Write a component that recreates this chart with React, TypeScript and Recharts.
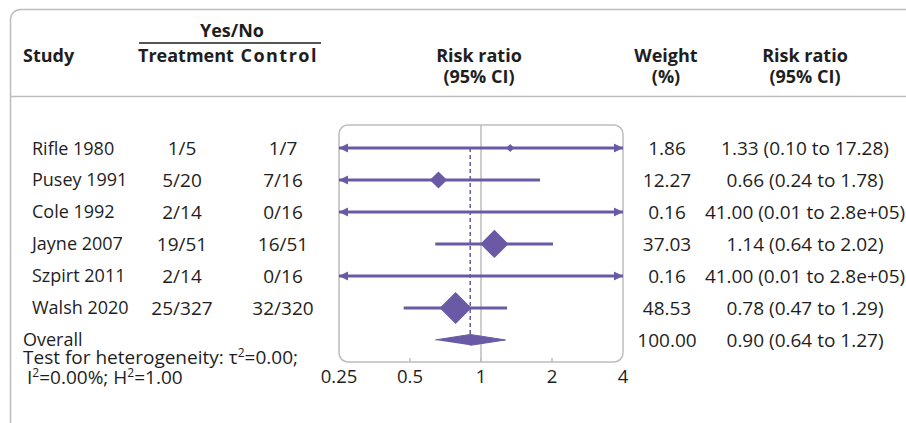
import React from "react";
import { ComposedChart, Scatter, XAxis, YAxis, ReferenceLine, ReferenceArea } from "recharts";

const studies = ["Rifle 1980", "Pusey 1991", "Cole 1992", "Jayne 2007", "Szpirt 2011", "Walsh 2020"];
const treatment = ["1/5", "5/20", "2/14", "19/51", "2/14", "25/327"];
const control = ["1/7", "7/16", "0/16", "16/51", "0/16", "32/320"];
const riskRatio = [1.33, 0.66, 41.0, 1.14, 41.0, 0.78];
const ciLow = [0.1, 0.24, 0.01, 0.64, 0.01, 0.47];
const ciHigh = [17.28, 1.78, 2.8e5, 2.02, 2.8e5, 1.29];
const weights = [1.86, 12.27, 0.16, 37.03, 0.16, 48.53];

const overallRR = 0.9;
const overallLow = 0.64;
const overallHigh = 1.27;
const overallWeight = 100;

const xTicks = [0.25, 0.5, 1, 2, 4];
const X_MIN = 0.25;
const X_MAX = 4;
const OVERALL_ROW = studies.length;
const rows = [...studies.map((_, i) => i), OVERALL_ROW];

const PURPLE = "#6A5AA6";
const GREY = "#bdbdbd";
const INK = "#1e1e1e";
const FONT = "'Open Sans', 'Noto Sans', sans-serif";

const fmt = (v: number) => (v >= 1e5 ? v.toExponential(1).replace("e+5", "e+05") : v.toFixed(2));
const ciLabel = (rr: number, lo: number, hi: number) => `${fmt(rr)} (${fmt(lo)} to ${fmt(hi)})`;

const markers = studies.map((s, i) => ({ x: riskRatio[i], y: i, w: weights[i] }));
const ciSeries = studies.map((s, i) => [
  { x: Math.max(ciLow[i], X_MIN), y: i, arrow: ciLow[i] < X_MIN ? -1 : 0 },
  { x: Math.min(ciHigh[i], X_MAX), y: i, arrow: ciHigh[i] > X_MAX ? 1 : 0 },
]);
const overallDiamond = [
  { x: overallLow, y: OVERALL_ROW },
  { x: overallRR, y: OVERALL_ROW - 0.17 },
  { x: overallHigh, y: OVERALL_ROW },
  { x: overallRR, y: OVERALL_ROW + 0.17 },
];

function ArrowEnd(p: any) {
  const { cx, cy, payload } = p;
  if (!payload || !payload.arrow) return <g />;
  const d = payload.arrow;
  return (
    <polygon
      points={`${cx},${cy} ${cx - d * 9},${cy - 4.5} ${cx - d * 9},${cy + 4.5}`}
      fill={PURPLE}
    />
  );
}

// marker half-size grows with the square root of the study weight
function Diamond(p: any) {
  const { cx, cy, payload } = p;
  const h = 2.14 * Math.sqrt(payload.w) + 1.1;
  return (
    <polygon
      points={`${cx - h},${cy} ${cx},${cy - h} ${cx + h},${cy} ${cx},${cy + h}`}
      fill={PURPLE}
    />
  );
}

function RowTick(p: any) {
  const { y, payload } = p;
  const i = payload.value;
  const name = { fontSize: 18, fill: INK, fontFamily: FONT, dy: "0.36em" } as any;
  const num = { fontSize: 19, fill: INK, fontFamily: FONT, dy: "0.36em", textAnchor: "middle" } as any;
  if (i === OVERALL_ROW) {
    return (
      <g>
        <text x={23} y={y} {...name}>Overall</text>
        <text x={667} y={y} {...num}>{overallWeight.toFixed(2)}</text>
        <text x={805} y={y} {...num}>{ciLabel(overallRR, overallLow, overallHigh)}</text>
      </g>
    );
  }
  return (
    <g>
      <text x={32} y={y} {...name}>{studies[i]}</text>
      <text x={182} y={y} {...num}>{treatment[i]}</text>
      <text x={283} y={y} {...num}>{control[i]}</text>
      <text x={667} y={y} {...num}>{weights[i].toFixed(2)}</text>
      <text x={805} y={y} {...num}>{ciLabel(riskRatio[i], ciLow[i], ciHigh[i])}</text>
    </g>
  );
}

function XTick(p: any) {
  const { x, y, payload } = p;
  const v = payload.value;
  const edge = v === X_MIN || v === X_MAX;
  return (
    <g>
      {!edge && <line x1={x} x2={x} y1={y - 4} y2={y} stroke={GREY} strokeWidth={1.5} />}
      <text x={x} y={y + 21} textAnchor="middle" fontSize={18.5} fill={INK} fontFamily={FONT}>
        {String(v)}
      </text>
    </g>
  );
}

function Frame() {
  const bold = { fontSize: 18, fontWeight: 700, fill: INK, fontFamily: FONT } as any;
  const reg = { fontSize: 19, fill: INK, fontFamily: FONT } as any;
  return (
    <svg width={906} height={423} style={{ position: "absolute", left: 0, top: 0 }}>
      <rect x={10.5} y={9.5} width={1000} height={1000} rx={10} fill="none" stroke={GREY} strokeWidth={1.5} />
      <line x1={10} x2={906} y1={96.5} y2={96.5} stroke={GREY} strokeWidth={1.5} />
      <text x={23} y={62} {...bold}>Study</text>
      <text x={232} y={37} textAnchor="middle" {...bold}>Yes/No</text>
      <line x1={139} x2={321} y1={43} y2={43} stroke={INK} strokeWidth={1.5} />
      <text x={138} y={62} {...bold}>Treatment</text>
      <text x={318} y={62} textAnchor="end" letterSpacing={1.5} {...bold}>Control</text>
      <text x={479} y={62} textAnchor="middle" {...bold}>Risk ratio</text>
      <text x={479} y={83} textAnchor="middle" {...bold}>(95% CI)</text>
      <text x={666} y={62} textAnchor="middle" {...bold}>Weight</text>
      <text x={666} y={83} textAnchor="middle" {...bold}>(%)</text>
      <text x={805} y={62} textAnchor="middle" {...bold}>Risk ratio</text>
      <text x={805} y={83} textAnchor="middle" {...bold}>(95% CI)</text>
      <text x={23} y={364} {...reg}>
        Test for heterogeneity: τ<tspan fontSize={12} dy={-7}>2</tspan>
        <tspan dy={7}>=0.00;</tspan>
      </text>
      <text x={27} y={384} {...reg}>
        I<tspan fontSize={12} dy={-7}>2</tspan>
        <tspan dy={7}>=0.00%; H</tspan>
        <tspan fontSize={12} dy={-7}>2</tspan>
        <tspan dy={7}>=1.00</tspan>
      </text>
    </svg>
  );
}

export default function App() {
  return (
    <div style={{ position: "absolute", left: 0, top: 0, width: 906, height: 423, background: "#fff", fontFamily: FONT }}>
      <Frame />
      <div style={{ position: "absolute", left: 0, top: 0 }}>
        <ComposedChart width={906} height={423} margin={{ top: 125, right: 283, bottom: 0, left: 0 }}>
          <XAxis
            type="number"
            dataKey="x"
            scale="log"
            domain={[X_MIN, X_MAX]}
            ticks={xTicks}
            allowDataOverflow
            interval={0}
            axisLine={false}
            tickLine={false}
            tickSize={0}
            tickMargin={0}
            height={61}
            tick={<XTick />}
          />
          <YAxis
            yAxisId="left"
            type="number"
            dataKey="y"
            domain={[-0.72, 6.69]}
            ticks={rows}
            reversed
            allowDataOverflow
            interval={0}
            width={339}
            axisLine={false}
            tickLine={false}
            tick={<RowTick />}
          />
          <ReferenceArea
            yAxisId="left"
            x1={X_MIN}
            x2={X_MAX}
            shape={(p: any) => (
              <rect x={p.x} y={p.y} width={p.width} height={p.height} rx={9} fill="none" stroke={GREY} strokeWidth={1.5} />
            )}
          />
          <ReferenceLine yAxisId="left" x={1} stroke={GREY} strokeWidth={1.5} />
          <ReferenceLine
            yAxisId="left"
            segment={[{ x: overallRR, y: 0 }, { x: overallRR, y: OVERALL_ROW }]}
            stroke={PURPLE}
            strokeWidth={1.5}
            strokeDasharray="4 3"
          />
          {ciSeries.map((d, i) => (
            <Scatter
              key={studies[i]}
              yAxisId="left"
              data={d}
              fill={PURPLE}
              line={{ stroke: PURPLE, strokeWidth: 3 }}
              shape={<ArrowEnd />}
              isAnimationActive={false}
            />
          ))}
          <Scatter yAxisId="left" data={markers} fill={PURPLE} shape={<Diamond />} isAnimationActive={false} />
          <Scatter
            yAxisId="left"
            data={overallDiamond}
            fill={PURPLE}
            line={{ stroke: PURPLE, strokeWidth: 1, fill: PURPLE }}
            shape={() => <g />}
            isAnimationActive={false}
          />
        </ComposedChart>
      </div>
    </div>
  );
}
